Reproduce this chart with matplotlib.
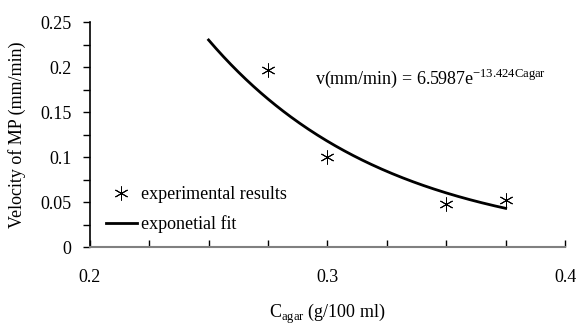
import numpy as np
from matplotlib import pyplot as plt

plt.rcParams['font.family'] = ['Liberation Serif', 'DejaVu Serif']

# experimental points
c_agar = [0.275, 0.300, 0.350, 0.375]
velocity = [0.197, 0.100, 0.048, 0.052]

# exponential fit v = a*exp(b*C)
fit_a = 6.5987
fit_b = -13.424
fit_range = [0.25, 0.375]

xfit = np.linspace(fit_range[0], fit_range[1], 200)
yfit = fit_a * np.exp(fit_b * xfit)

fig = plt.figure(figsize=(5.79, 3.25), dpi=100)
ax = fig.add_axes([0.155, 0.24, 0.821, 0.692])

ax.plot(c_agar, velocity, linestyle='none', marker=(6, 2, 0), markersize=10,
        markeredgewidth=0.7, color='black', label='experimental results')
ax.plot(xfit, yfit, color='black', lw=2, label='exponetial fit')

ax.set_xlim(0.2, 0.4)
ax.set_ylim(0, 0.25)
ax.set_xticks([0.2, 0.3, 0.4])
ax.set_xticklabels(['0.2', '0.3', '0.4'])
ax.set_xticks(np.arange(0.2, 0.401, 0.025), minor=True)
ax.set_yticks([0, 0.05, 0.1, 0.15, 0.2, 0.25])
ax.set_yticklabels(['0', '0.05', '0.1', '0.15', '0.2', '0.25'])
ax.set_yticks(np.arange(0, 0.251, 0.025), minor=True)

ax.tick_params(axis='x', which='both', direction='in', length=5, width=1,
               color='black', pad=16, labelsize=13)
ax.tick_params(axis='y', which='both', direction='out', length=5, width=1,
               labelsize=13, pad=8)

for s in ['top', 'right']:
    ax.spines[s].set_visible(False)
ax.spines['bottom'].set_color('#808080')
ax.spines['bottom'].set_linewidth(1.5)
ax.spines['left'].set_linewidth(1.2)

ax.set_xlabel(r'C$_{\mathregular{agar}}$ (g/100 ml)', fontsize=13, labelpad=11)
ax.set_ylabel('Velocity of MP (mm/min)', fontsize=13, labelpad=10)

ax.text(0.2947, 0.181, r'v(mm/min) = 6.5987e$^{\mathregular{-13.424Cagar}}$',
        fontsize=13)

ax.legend(loc='lower left', bbox_to_anchor=(0.0, -0.012), frameon=False,
          fontsize=13, handlelength=1.7, handletextpad=0.25, labelspacing=0.7)

fig.savefig('out.png', dpi=100)
